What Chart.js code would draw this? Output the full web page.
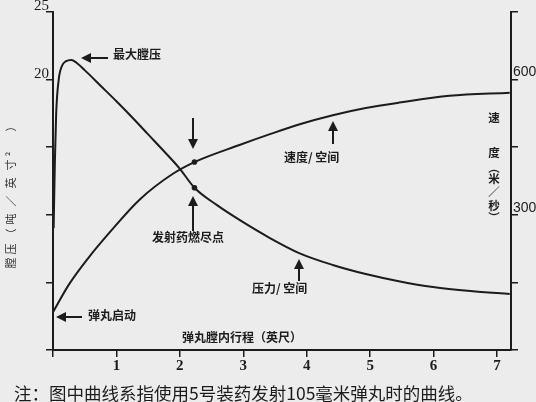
<!DOCTYPE html>
<html><head><meta charset="utf-8">
<script src="https://cdn.jsdelivr.net/npm/chart.js@4"></script>
<style>html,body{margin:0;padding:0;background:#ececec;overflow:hidden}#wrap{width:536px;height:402px}</style>
</head><body><div id="wrap"><canvas id="c" width="536" height="402"></canvas></div>
<script>
// ---- data ----
const travelP = [0.01, 0.03, 0.05, 0.09, 0.14, 0.20, 0.29, 0.37, 0.50, 0.75, 1.00, 1.25, 1.50, 1.75, 2.00, 2.23, 2.58, 2.94, 3.42, 3.88, 4.41, 4.93, 5.47, 5.99, 6.58, 7.20];
const pressure = [9.0, 14.0, 17.5, 20.0, 21.0, 21.35, 21.45, 21.25, 20.7, 19.55, 18.4, 17.2, 15.95, 14.7, 13.4, 12.0, 10.73, 9.62, 8.28, 7.17, 6.29, 5.62, 5.07, 4.66, 4.36, 4.14];
const travelV = [0.00, 0.25, 0.55, 0.90, 1.36, 1.89, 2.23, 2.94, 3.42, 3.89, 4.41, 4.93, 5.46, 6.25, 7.20];
const velocity = [84, 145, 203, 262, 333, 391, 417, 455, 479, 501, 521, 537, 549, 564, 571];
const burnoutX = 2.23;
const xTickLabels = [1, 2, 3, 4, 5, 6, 7];
const leftTickLabels = [20, 25];
const rightTickLabels = [300, 600];
const xTitle = '弹丸膛内行程（英尺）';
const leftTitleChars = ['膛', '压', '︵', '吨', '／', '英', '寸', '²', '︶'];
const rightTitleChars = ['速', '度', '︵', '米', '／', '秒', '︶'];
const note = '注：图中曲线系指使用5号装药发射105毫米弹丸时的曲线。';

const INK = '#1c1c1c';
const CJK = '"Noto Sans CJK SC"';

function pts(xs, ys) { return xs.map((x, i) => ({ x: x, y: ys[i] })); }

function arrow(ctx, x1, y1, x2, y2) {
  const a = Math.atan2(y2 - y1, x2 - x1), L = 10, W = 5;
  ctx.beginPath();
  ctx.moveTo(x1, y1);
  ctx.lineTo(x2 - L * 0.6 * Math.cos(a), y2 - L * 0.6 * Math.sin(a));
  ctx.stroke();
  ctx.beginPath();
  ctx.moveTo(x2, y2);
  ctx.lineTo(x2 - L * Math.cos(a) - W * Math.sin(a), y2 - L * Math.sin(a) + W * Math.cos(a));
  ctx.lineTo(x2 - L * Math.cos(a) + W * Math.sin(a), y2 - L * Math.sin(a) - W * Math.cos(a));
  ctx.closePath();
  ctx.fill();
}

const bgPlugin = {
  id: 'bg',
  beforeDraw(chart) {
    const c = chart.ctx;
    c.save(); c.fillStyle = '#ececec'; c.fillRect(0, 0, chart.width, chart.height); c.restore();
  }
};

const notesPlugin = {
  id: 'notes',
  afterDraw(chart) {
    const c = chart.ctx;
    c.save();
    c.fillStyle = INK; c.strokeStyle = INK; c.lineWidth = 2;
    c.textBaseline = 'middle'; c.textAlign = 'left';
    c.font = 'bold 12px ' + CJK;
    c.fillText('最大膛压', 113, 54);
    c.fillText('发射药燃尽点', 152, 237);
    c.fillText('速度/ 空间', 284, 157);
    c.fillText('压力/ 空间', 252, 288);
    c.fillText('弹丸启动', 88, 315);
    c.fillText(xTitle, 182, 337);
    // right vertical title (stacked)
    c.font = 'bold 11.5px ' + CJK;
    c.textAlign = 'center';
    const ys = [118, 153, 168, 179, 192, 206, 218];
    rightTitleChars.forEach((ch, i) => c.fillText(ch, 494, ys[i]));
    // left vertical title (rotated, spaced)
    c.fillStyle = '#333';
    c.font = '11px ' + CJK;
    const ly = [263, 249, 234, 219, 201, 183, 165, 154, 126];
    leftTitleChars.forEach((ch, i) => {
      c.save(); c.translate(11, ly[i]); c.rotate(-Math.PI / 2);
      const g = ch === '︵' ? '（' : ch === '︶' ? '）' : ch;
      c.fillText(g, 0, 0); c.restore();
    });
    c.fillStyle = INK;
    c.textAlign = 'left';
    c.font = '17.5px ' + CJK;
    c.fillText(note, 14, 393);
    arrow(c, 108, 58, 81, 58);
    arrow(c, 193, 118, 193, 149);
    arrow(c, 193, 231, 193, 196);
    arrow(c, 333, 144, 333, 121);
    arrow(c, 299, 281, 299, 259);
    arrow(c, 82, 317, 56, 317);
    c.restore();
  }
};

new Chart(document.getElementById('c'), {
  type: 'line',
  data: {
    datasets: [
      { label: 'pressure', data: pts(travelP, pressure), yAxisID: 'y', borderColor: INK, borderWidth: 2,
        pointRadius: ctx => (ctx.raw && ctx.raw.x === burnoutX ? 2.8 : 0), pointBackgroundColor: INK, pointBorderWidth: 0,
        cubicInterpolationMode: 'monotone', fill: false },
      { label: 'velocity', data: pts(travelV, velocity), yAxisID: 'y1', borderColor: INK, borderWidth: 2,
        pointRadius: ctx => (ctx.raw && ctx.raw.x === burnoutX ? 2.8 : 0), pointBackgroundColor: INK, pointBorderWidth: 0,
        cubicInterpolationMode: 'monotone', fill: false }
    ]
  },
  options: {
    responsive: false, animation: false, devicePixelRatio: 1,
    layout: { padding: { top: 12, left: 0, right: 0, bottom: 0 } },
    plugins: { legend: { display: false }, tooltip: { enabled: false } },
    scales: {
      x: {
        type: 'linear', min: 0, max: 7.22,
        afterFit(s) { s.height = 52; },
        border: { display: true, color: INK, width: 2 },
        grid: { drawOnChartArea: false, drawTicks: true, tickLength: 7, color: INK, lineWidth: 1.5 },
        ticks: { stepSize: 1, includeBounds: false, autoSkip: false, maxRotation: 0, padding: 0, color: INK,
          font: { family: 'Liberation Serif', size: 15, weight: 'bold' },
          callback: v => (xTickLabels.includes(v) ? String(v) : '') }
      },
      y: {
        position: 'left', min: 0, max: 25,
        afterFit(s) { s.width = 53; },
        border: { display: true, color: INK, width: 2 },
        grid: { drawOnChartArea: false, drawTicks: true, tickLength: 7, color: INK, lineWidth: 1.5 },
        ticks: { stepSize: 5, includeBounds: false, autoSkip: false, padding: -3, labelOffset: -6, color: INK,
          font: { family: 'Liberation Serif', size: 15 },
          callback: v => (leftTickLabels.includes(v) ? String(v) : '') }
      },
      y1: {
        position: 'right', min: 0, max: 750,
        afterFit(s) { s.width = 25; },
        border: { display: true, color: INK, width: 2 },
        grid: { drawOnChartArea: false, drawTicks: true, tickLength: 7, color: INK, lineWidth: 1.5 },
        ticks: { stepSize: 150, includeBounds: false, autoSkip: false, padding: -5, labelOffset: -7, color: INK,
          font: { family: 'Liberation Sans', size: 14 },
          callback: v => (rightTickLabels.includes(v) ? String(v) : '') }
      }
    }
  },
  plugins: [bgPlugin, notesPlugin]
});
</script>
</body></html>
